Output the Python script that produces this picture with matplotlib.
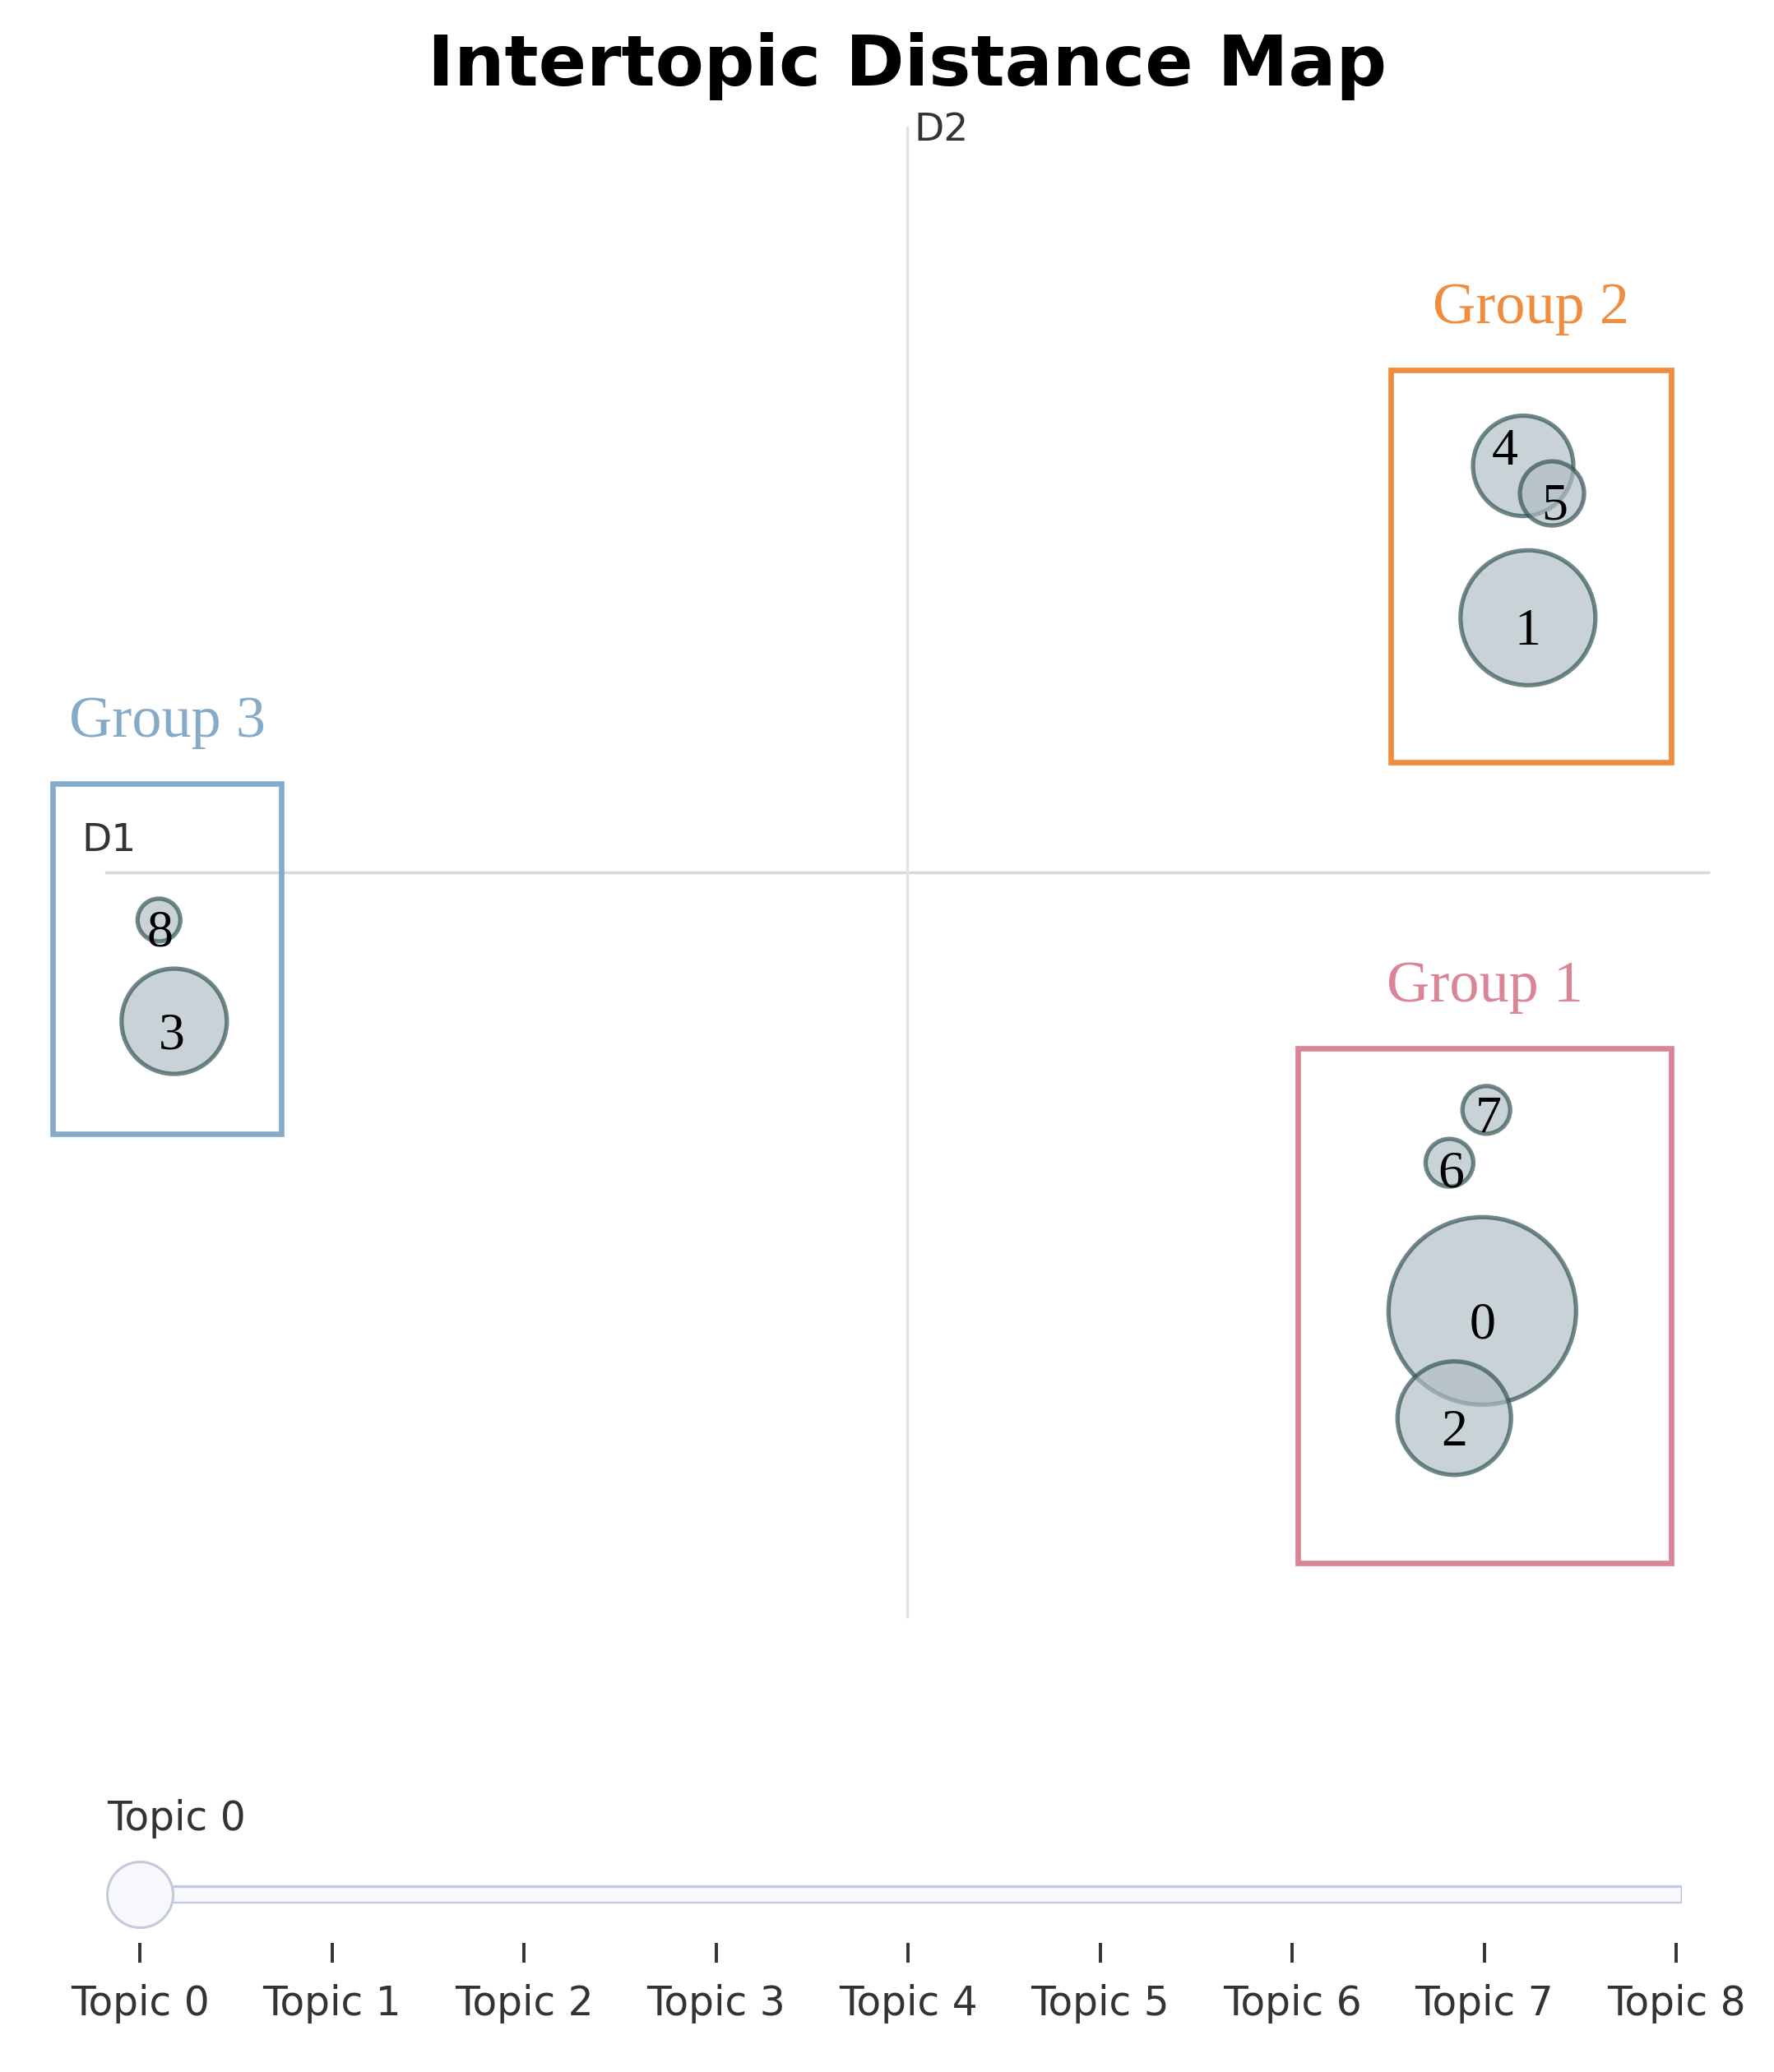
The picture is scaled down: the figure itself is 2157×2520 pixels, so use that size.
import matplotlib

matplotlib.use("Agg")
import matplotlib.pyplot as plt  # noqa: E402
from matplotlib.patches import Rectangle  # noqa: E402

W, H, DPI = 2157, 2520, 100

# topic positions on the (D1, D2) map and bubble radius (px) per topic
topic_ids = [0, 1, 2, 3, 4, 5, 6, 7, 8]
d1 = [7.18, 7.75, 6.83, -9.15, 7.69, 8.05, 6.77, 7.23, -9.34]
d2 = [-5.89, 3.42, -7.33, -2.00, 5.46, 5.09, -3.90, -3.19, -0.64]
topic_size = [114, 82, 69, 64, 61, 39, 29, 29, 26]

# hand-drawn group boxes (in D1/D2 units)
group_names = ["Group 1", "Group 2", "Group 3"]
group_colors = ["#d98597", "#ef8c3d", "#86abc9"]
group_x0 = [4.88, 6.04, -10.67]
group_x1 = [9.54, 9.54, -7.81]
group_y0 = [-9.28, 1.48, -3.51]
group_y1 = [-2.36, 6.75, 1.19]

slider_labels = [f"Topic {i}" for i in range(9)]
slider_value = 0

# label nudges (points) so numbers sit like in the original
label_offsets = [(0, -13), (0, -13), (0, -13), (-2, -13), (-16, 12),
                 (2, -12), (1, -10), (2, -9), (1, -12)]

fig = plt.figure(figsize=(W / DPI, H / DPI), dpi=DPI)
ax = fig.add_axes([0, 0, 1, 1])
ax.set_xlim(-1103 / 97.4, (W - 1103) / 97.4)
ax.set_ylim((1061 - H) / 90.55, 1061 / 90.55)
ax.axis("off")

# axis cross
ax.plot([-10, 10], [0, 0], color="#d8d8d8", lw=2.5, zorder=0)
ax.plot([0, 0], [-10, 10], color="#e3e3e3", lw=2.5, zorder=0)
ax.text(-10.30, 0.43, "D1", ha="left", va="center", fontsize=34, color="#333333")
ax.text(0.09, 9.97, "D2", ha="left", va="center", fontsize=34, color="#333333")

ax.text(0, 10.83, "Intertopic Distance Map", ha="center", va="center",
        fontsize=62, fontweight="bold", color="black")

sizes = [(2 * r * 72 / DPI) ** 2 for r in topic_size]
ax.scatter(d1, d2, s=sizes, color="#B0BEC5", edgecolors="darkslategrey",
           linewidths=3.8, alpha=0.68, zorder=2)

for t, x, y, off in zip(topic_ids, d1, d2, label_offsets):
    ax.annotate(str(t), (x, y), xytext=off, textcoords="offset points",
                ha="center", va="center", fontsize=46,
                fontfamily="Liberation Serif", color="black", zorder=4)

for name, c, x0, x1, y0, y1 in zip(group_names, group_colors, group_x0,
                                   group_x1, group_y0, group_y1):
    ax.add_patch(Rectangle((x0, y0), x1 - x0, y1 - y0, fill=False,
                           edgecolor=c, lw=4.8, zorder=3, clip_on=False))
    ax.text((x0 + x1) / 2, y1 + 0.82, name, ha="center", va="center",
            fontsize=52, fontfamily="Liberation Serif", color=c)

# slider
ax2 = fig.add_axes([170 / W, (H - 2363) / H, (2038 - 170) / W, (2363 - 2180) / H])
ax2.set_xlim(0, 8)
ax2.set_ylim(0, 1)
for s in ax2.spines.values():
    s.set_visible(False)
ax2.set_yticks([])
ax2.set_xticks(range(len(slider_labels)), slider_labels)
ax2.tick_params(axis="x", direction="out", length=17, width=2.8, color="#333333",
                labelsize=35, labelcolor="#333333", pad=19)
ax2.patch.set_alpha(0)

track_y = 0.322
ax2.plot([0, 8.03], [track_y, track_y], lw=16, color="#c3c8e2",
         solid_capstyle="butt", clip_on=False, zorder=1)
ax2.plot([0, 8.02], [track_y, track_y], lw=12, color="#f8f9fe",
         solid_capstyle="butt", clip_on=False, zorder=2)
ax2.scatter([slider_value], [track_y], s=(2 * 40 * 72 / DPI) ** 2,
            facecolor="#f6f8fc", edgecolors="#c5c9da", linewidths=2.2,
            zorder=5, clip_on=False)
ax2.text(-0.17, 0.825, slider_labels[slider_value], ha="left", va="center",
         fontsize=35, color="#333333")

fig.savefig("out.png", dpi=DPI)
